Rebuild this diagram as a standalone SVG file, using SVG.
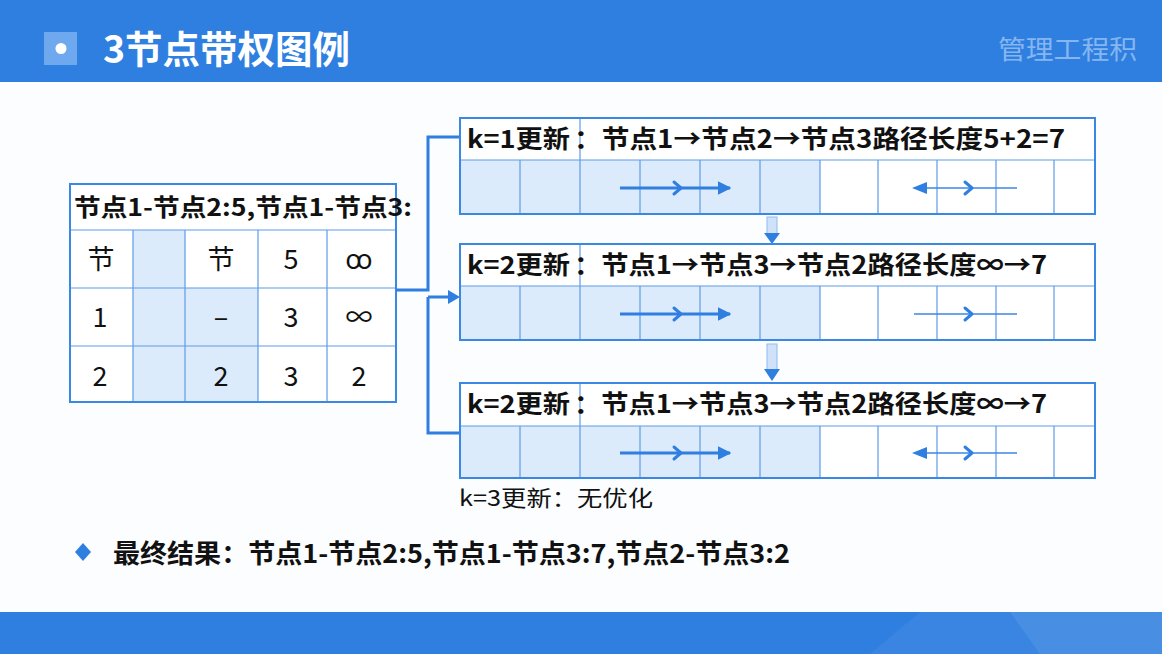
<svg xmlns="http://www.w3.org/2000/svg" width="1162" height="654" viewBox="0 0 1162 654">
<defs>
<style>
.t{font-family:"Noto Sans CJK SC","Noto Sans",sans-serif;fill:#111}
.b{font-weight:bold}
.box{fill:#fff;stroke:#3b87e4;stroke-width:2}
.shade{fill:#dcebfb}
.grid{stroke:#5d9ce9;stroke-width:1.2;fill:none}
.conn{stroke:#2f7fe0;stroke-width:3;fill:none}
.arr{stroke:#2f7fe0;stroke-width:3;fill:none}
.thin{stroke:#3b87e4;stroke-width:1.5;fill:none}
.chev{stroke:#2f7fe0;stroke-width:3;fill:none;stroke-linecap:round;stroke-linejoin:round}
.cell{font-size:27px;text-anchor:middle}
</style>
<marker id="ah" viewBox="0 0 10 10" refX="9" refY="5" markerWidth="4.5" markerHeight="4.5" orient="auto">
<path d="M0,0 L10,5 L0,10 Z" fill="#2f7fe0"/>
</marker>
</defs>
<rect width="1162" height="654" fill="#fbfdff"/>
<!-- header -->
<g id="header">
<rect x="0" y="0" width="1162" height="82" fill="#2f7fe0"/>
<rect x="44" y="32" width="33" height="33" fill="#6ea8ef"/>
<circle cx="61" cy="48.5" r="5.5" fill="#fff"/>
<text x="103" y="63" class="t b" style="fill:#fff" font-size="38" textLength="247" lengthAdjust="spacingAndGlyphs">3节点带权图例</text>
<text x="998" y="59" class="t" style="fill:#86b6f0" font-size="26" textLength="139" lengthAdjust="spacingAndGlyphs">管理工程积</text>
</g>
<!-- footer -->
<g id="footer">
<rect x="0" y="612" width="1162" height="42" fill="#2f7fe0"/>
<polygon points="1010,612 1162,612 1162,654 1040,654" fill="#fff" opacity="0.08"/>
<polygon points="870,654 920,612 1162,612 1162,654" fill="#fff" opacity="0.05"/>
</g>
<!-- left table -->
<g id="table">
<rect x="70" y="184" width="326" height="218" fill="#fff"/>
<rect x="133" y="230" width="52" height="172" class="shade"/>
<rect x="185" y="288" width="73" height="114" class="shade"/>
<path class="grid" d="M70,230H396 M70,288H396 M70,346H396 M133,230V402 M185,230V402 M258,230V402 M327,230V402"/>
<rect x="70" y="184" width="326" height="218" fill="none" stroke="#3b87e4" stroke-width="2"/>
<text x="74" y="216" class="t b" font-size="24" textLength="338" lengthAdjust="spacingAndGlyphs">节点1-节点2:5,节点1-节点3:</text>
<text x="101" y="269" class="t cell">节</text>
<text x="221" y="269" class="t cell">节</text>
<text x="291" y="269" class="t cell">5</text>
<text x="359" y="269" class="t cell">ꝏ</text>
<text x="100" y="327" class="t cell">1</text>
<text x="221" y="327" class="t cell">–</text>
<text x="291" y="327" class="t cell">3</text>
<text x="359" y="327" class="t cell">∞</text>
<text x="100" y="386" class="t cell">2</text>
<text x="221" y="386" class="t cell">2</text>
<text x="291" y="386" class="t cell">3</text>
<text x="359" y="386" class="t cell">2</text>
</g>
<!-- connectors -->
<g id="connectors">
<path class="conn" d="M396,290 H428 V137 H460"/>
<path class="conn" d="M428,297 V433 H460"/>
<path class="conn" d="M428,297 H452"/>
<path d="M448,290 L460,297 L448,304 Z" fill="#2f7fe0"/>
<g id="down1">
<rect x="767" y="217" width="10" height="17" fill="#cfe2f9" stroke="#8fbcf0" stroke-width="1"/>
<path d="M764,233 L780,233 L772,244 Z" fill="#2f7fe0"/>
</g>
<g id="down2">
<rect x="767" y="344" width="10" height="26" fill="#cfe2f9" stroke="#8fbcf0" stroke-width="1"/>
<path d="M764,369 L780,369 L772,381 Z" fill="#2f7fe0"/>
</g>
</g>
<!-- box 1 -->
<g id="box1">
<rect x="460" y="118" width="635" height="96" class="box"/>
<rect x="461" y="160" width="359" height="53" class="shade"/>
<path class="grid" d="M460,160H1095 M580,118V160 M520,160V214 M580,160V214 M640,160V214 M700,160V214 M760,160V214 M820,160V214 M878,160V214 M937,160V214 M996,160V214 M1054,160V214"/>
<rect x="460" y="118" width="635" height="96" fill="none" stroke="#3b87e4" stroke-width="2"/>
<text x="467" y="148" class="t b" font-size="25" textLength="103" lengthAdjust="spacingAndGlyphs">k=1更新</text>
<text x="574" y="148" class="t b" font-size="25" textLength="491" lengthAdjust="spacingAndGlyphs">：节点1→节点2→节点3路径长度5+2=7</text>
<path class="arr" d="M620,188 H730" marker-end="url(#ah)"/>
<path class="chev" d="M674,182 L681,188 L674,194"/>
<path class="thin" d="M920,188 H1017"/>
<path d="M912,188 L927,182 L927,194 Z" fill="#2f7fe0"/>
<path class="chev" d="M965,182 L972,188 L965,194"/>
</g>
<!-- box 2 -->
<g id="box2">
<rect x="460" y="244" width="635" height="96" class="box"/>
<rect x="461" y="286" width="359" height="53" class="shade"/>
<path class="grid" d="M460,286H1095 M580,244V286 M520,286V340 M580,286V340 M640,286V340 M700,286V340 M760,286V340 M820,286V340 M878,286V340 M937,286V340 M996,286V340 M1054,286V340"/>
<rect x="460" y="244" width="635" height="96" fill="none" stroke="#3b87e4" stroke-width="2"/>
<text x="467" y="274" class="t b" font-size="25" textLength="103" lengthAdjust="spacingAndGlyphs">k=2更新</text>
<text x="574" y="274" class="t b" font-size="25" textLength="473" lengthAdjust="spacingAndGlyphs">：节点1→节点3→节点2路径长度∞→7</text>
<path class="arr" d="M620,314 H730" marker-end="url(#ah)"/>
<path class="chev" d="M674,308 L681,314 L674,320"/>
<path class="thin" d="M914,314 H1017"/>
<path class="chev" d="M965,308 L972,314 L965,320"/>
</g>
<!-- box 3 -->
<g id="box3">
<rect x="460" y="383" width="635" height="95" class="box"/>
<rect x="461" y="426" width="359" height="51" class="shade"/>
<path class="grid" d="M460,426H1095 M580,383V426 M520,426V478 M580,426V478 M640,426V478 M700,426V478 M760,426V478 M820,426V478 M878,426V478 M937,426V478 M996,426V478 M1054,426V478"/>
<rect x="460" y="383" width="635" height="95" fill="none" stroke="#3b87e4" stroke-width="2"/>
<text x="467" y="413" class="t b" font-size="25" textLength="103" lengthAdjust="spacingAndGlyphs">k=2更新</text>
<text x="574" y="413" class="t b" font-size="25" textLength="473" lengthAdjust="spacingAndGlyphs">：节点1→节点3→节点2路径长度∞→7</text>
<path class="arr" d="M620,453 H730" marker-end="url(#ah)"/>
<path class="chev" d="M674,447 L681,453 L674,459"/>
<path class="thin" d="M920,453 H1017"/>
<path d="M912,453 L927,447 L927,459 Z" fill="#2f7fe0"/>
<path class="chev" d="M965,447 L972,453 L965,459"/>
</g>
<g id="note">
<text x="459" y="506" class="t" font-size="22" textLength="194" lengthAdjust="spacingAndGlyphs">k=3更新：无优化</text>
</g>
<g id="result">
<path d="M83,543 L91,552 L83,561 L75,552 Z" fill="#2f7fe0"/>
<text x="113" y="563" class="t b" font-size="26" textLength="677" lengthAdjust="spacingAndGlyphs">最终结果：节点1-节点2:5,节点1-节点3:7,节点2-节点3:2</text>
</g>
</svg>
